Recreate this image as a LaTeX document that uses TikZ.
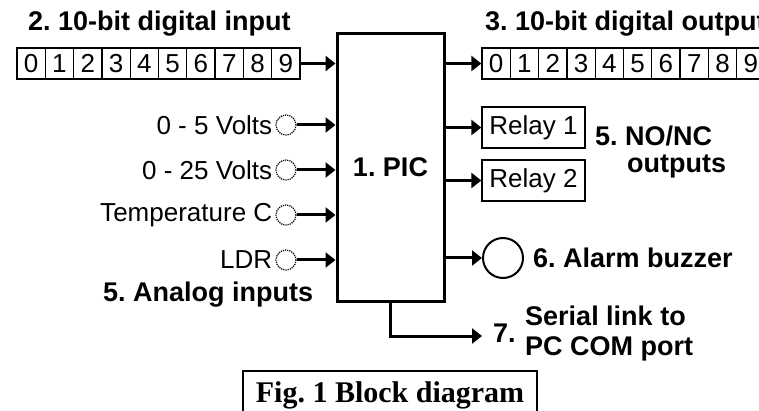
\documentclass[tikz,border=0pt]{standalone}
\usepackage{fontspec}
\setmainfont{Liberation Sans}
\newfontfamily\figfont{Liberation Serif}
\usetikzlibrary{arrows.meta}
\frenchspacing

\begin{document}
\begin{tikzpicture}[x=1pt, y=-1pt,
    thinline/.style={line width=1.3pt},
    bitcell/.style={draw, thinline, minimum width=28.3pt, minimum height=31pt, inner sep=0pt, font=\fontsize{26}{26}\selectfont},
    lbl/.style={inner sep=0pt, font=\fontsize{26}{26}\selectfont},
    ttl/.style={inner sep=0pt, font=\bfseries\fontsize{27}{30}\selectfont},
    conn/.style={line width=3pt, -{Triangle[length=10pt,width=15pt]}},
    pinring/.style={circle, draw, densely dotted, line width=1.2pt, minimum size=20pt, inner sep=0pt}]
% 1. PIC block in the middle, digital rows above left and right.
% 2. Analog inputs on the left, relays, buzzer and serial link on the right.
% 3. Caption box at the bottom.
    \clip (0,0) rectangle (759,411);

    % PIC block
    \node[draw, line width=3pt, minimum width=107pt, minimum height=267pt, ttl] (pic) at (390.5,167.5) {1. PIC};

    % 10-bit digital input
    \node[ttl, anchor=west] (intitle) at (28,24) {2. 10-bit digital input};
    \foreach \i in {0,...,9}
        \node[bitcell] (in\i) at ({31.15+28.3*\i},63.5) {\i};
    \draw[conn] (in9.east) -- (in9.east -| pic.west);

    % 10-bit digital output
    \node[ttl, anchor=west] (outtitle) at (485,24) {3. 10-bit digital output};
    \foreach \i in {0,...,9}
        \node[bitcell] (out\i) at ({496.15+28.3*\i},63.5) {\i};
    \draw[conn] (out0.west -| pic.east) -- (out0.west);

    % Analog inputs
    \foreach \y/\t [count=\k] in {125/0 - 5 Volts, 170/0 - 25 Volts, 215/Temperature C, 260/LDR} {
        \node[pinring] (a\k) at (286,\y) {};
        \node[lbl, anchor=east] (al\k) at ([xshift=-3pt]a\k.west) {\t};
        \draw[conn] (a\k.east) -- (a\k.east -| pic.west);
    }
    \node[ttl, anchor=west] (antitle) at (103,295) {5. Analog inputs};

    % Relays
    \node[draw, thinline, lbl, minimum width=103pt, minimum height=41pt] (relay1) at (533.5,127.5) {Relay 1};
    \node[draw, thinline, lbl, minimum width=103pt, minimum height=41pt] (relay2) at (533.5,180.5) {Relay 2};
    \draw[conn] (pic.east |- relay1) -- (relay1.west);
    \draw[conn] (pic.east |- relay2) -- (relay2.west);
    \node[ttl, anchor=west] (rtitle) at (595,136) {5. NO/NC};
    \node[ttl, anchor=west] (rtitle2) at (627,166) {outputs};

    % Alarm buzzer
    \node[circle, draw, line width=2pt, minimum size=40pt, inner sep=0pt] (buzzer) at (503,258) {};
    \draw[conn] (pic.east |- buzzer) -- (buzzer.west);
    \node[ttl, anchor=west] (btitle) at (533,258) {6. Alarm buzzer};

    % Serial link
    \coordinate (serial) at (482,336);
    \draw[conn] (pic.south) |- (serial);
    \node[ttl, anchor=west] (stitle) at (493,333) {7.};
    \node[ttl, anchor=west, align=left] (stext) at (525,334) {Serial link to\\PC COM port};

    % Caption
    \draw[thinline] (243,371) rectangle (537,440);
    \node[inner sep=0pt, font=\figfont\bfseries\fontsize{30}{30}\selectfont] (fig) at (390,395) {Fig. 1 Block diagram};
\end{tikzpicture}
\end{document}
